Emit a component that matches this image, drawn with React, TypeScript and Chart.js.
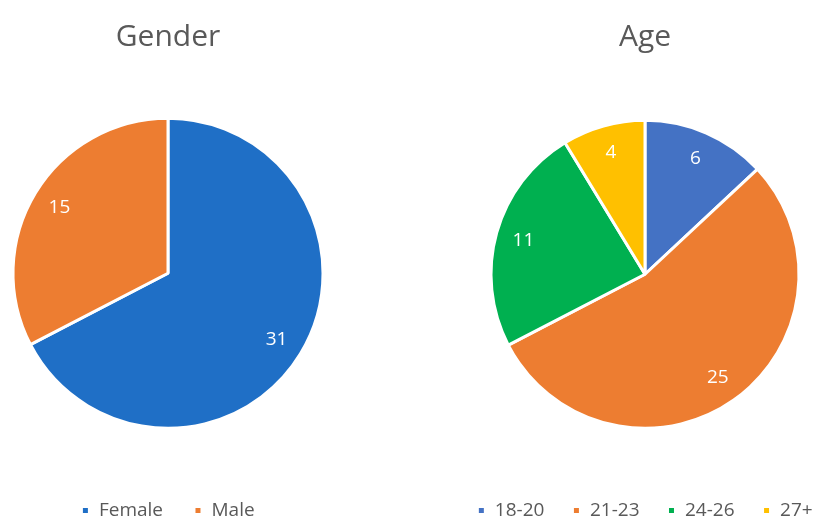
import React, { useEffect, useRef } from "react";
import { Chart, registerables } from "chart.js";

Chart.register(...registerables);

const genderLabels = ["Female", "Male"];
const genderValues = [31, 15];
const genderColors = ["#1F6FC6", "#ED7D31"];

const ageLabels = ["18-20", "21-23", "24-26", "27+"];
const ageValues = [6, 25, 11, 4];
const ageColors = ["#4472C4", "#ED7D31", "#00B050", "#FFC000"];

const FONT = "'Open Sans', 'Noto Sans', sans-serif";

const valueLabelPlugin = {
  id: "valueLabels",
  afterDatasetsDraw(chart: any) {
    const ctx = chart.ctx;
    const meta = chart.getDatasetMeta(0);
    const data = chart.data.datasets[0].data;
    ctx.save();
    ctx.fillStyle = "#ffffff";
    ctx.font = `19px ${FONT}`;
    ctx.textAlign = "center";
    ctx.textBaseline = "middle";
    meta.data.forEach((arc: any, i: number) => {
      const p = arc.getProps(["x", "y", "startAngle", "endAngle", "outerRadius"], true);
      const mid = (p.startAngle + p.endAngle) / 2;
      const r = p.outerRadius * 0.82;
      ctx.fillText(String(data[i]), p.x + Math.cos(mid) * r, p.y + Math.sin(mid) * r);
    });
    ctx.restore();
  },
};

function PieChart(props: {
  title: string;
  labels: string[];
  values: number[];
  colors: string[];
  width: number;
  legendPad: number;
  titleBottom: number;
  radius: number;
}) {
  const ref = useRef<HTMLCanvasElement>(null);
  useEffect(() => {
    const chart = new Chart(ref.current!, {
      type: "pie",
      data: {
        labels: props.labels,
        datasets: [
          {
            data: props.values,
            backgroundColor: props.colors,
            borderColor: "#ffffff",
            borderWidth: 3,
            radius: props.radius,
          } as any,
        ],
      },
      options: {
        responsive: false,
        animation: false,
        layout: { padding: 0 },
        plugins: {
          title: {
            display: true,
            text: props.title,
            color: "#595959",
            font: { family: FONT, size: 30, weight: "normal" },
            padding: { top: 19, bottom: props.titleBottom },
          },
          legend: {
            position: "bottom",
            labels: {
              color: "#595959",
              font: { family: FONT, size: 19 },
              usePointStyle: true,
              pointStyle: "rect",
              boxWidth: 8,
              boxHeight: 8,
              padding: props.legendPad,
            },
          },
          tooltip: { enabled: false },
        },
      },
      plugins: [valueLabelPlugin],
    });
    return () => chart.destroy();
  }, []);
  return <canvas ref={ref} width={props.width} height={530} style={{ display: "block" }} />;
}

export default function App() {
  return (
    <div style={{ position: "absolute", left: 0, top: 0, width: 820, height: 518, background: "#fff", overflow: "hidden" }}>
      <div style={{ position: "absolute", left: 0, top: 0 }}>
        <PieChart title="Gender" labels={genderLabels} values={genderValues} colors={genderColors} width={336} legendPad={31} titleBottom={21.5} radius={155} />
      </div>
      <div style={{ position: "absolute", left: 445, top: 0 }}>
        <PieChart title="Age" labels={ageLabels} values={ageValues} colors={ageColors} width={400} legendPad={28} titleBottom={20.5} radius={154} />
      </div>
    </div>
  );
}
